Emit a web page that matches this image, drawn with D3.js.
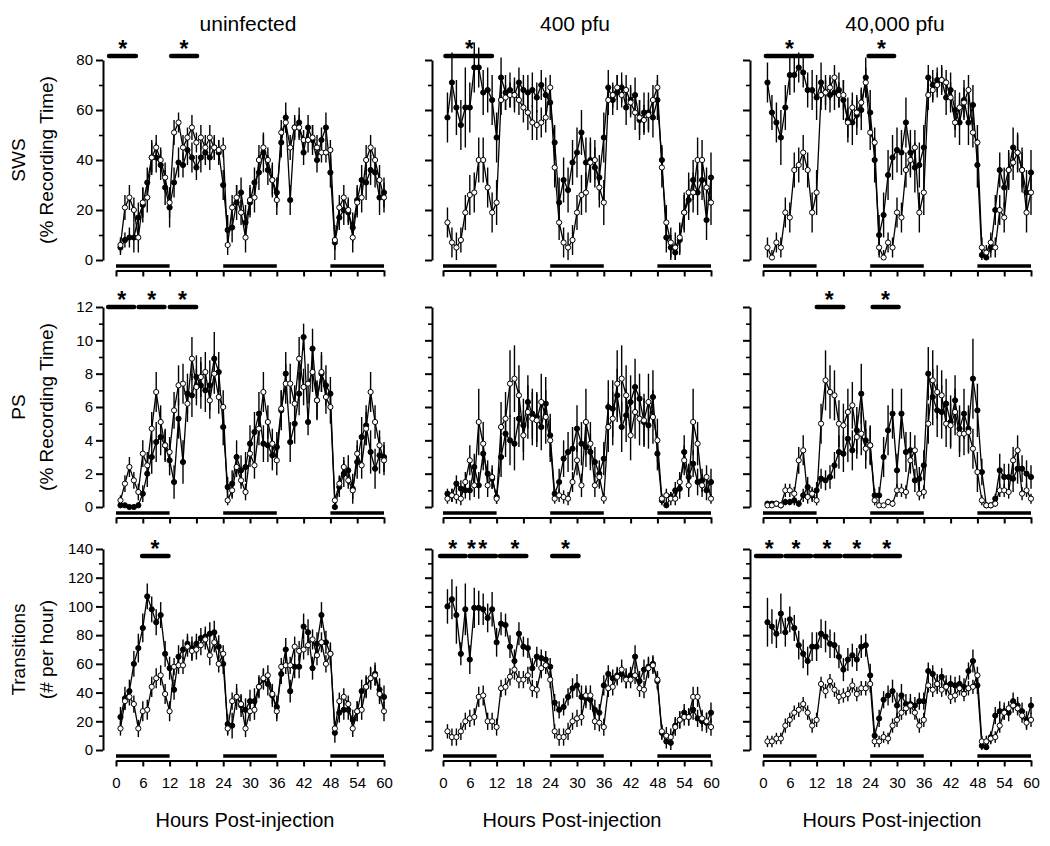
<!DOCTYPE html>
<html>
<head>
<meta charset="utf-8">
<script src="https://cdn.jsdelivr.net/npm/d3@7"></script>
<style>
  body { margin: 0; background: #fff; }
  svg { display: block; font-family: "Liberation Sans", Arial, sans-serif; }
</style>
</head>
<body>
<script>
// hours of recording (one point per hour)
const hours = d3.range(1, 61);

// ---- SWS (% recording time) ----
const swsUninFilled = [5,8,9,9,17,22,31,41,41,38,29,21, 31,39,38,44,41,37,41,43,41,45,43,30, 12,13,23,27,15,23,31,35,43,36,32,27, 47,57,24,53,55,43,53,48,40,48,53,35, 7,17,20,19,13,24,32,31,36,35,25,27];
const swsUninFilledErr = [3,3,4,6,6,7,6,7,6,6,7,8, 6,6,5,6,6,5,6,5,5,5,5,6, 6,6,7,6,7,6,6,7,8,6,7,6, 6,6,6,5,6,5,5,6,5,5,6,6, 7,5,6,5,6,6,6,7,6,6,7,6];
const swsUninOpen = [6,21,25,20,9,23,25,41,45,40,33,23, 51,55,45,49,53,47,49,45,49,45,44,45, 6,21,25,19,9,24,25,40,45,40,32,24, 51,55,45,53,53,48,48,49,45,43,43,44, 8,21,25,20,9,23,25,40,45,40,32,25];
const swsUninOpenErr = [3,5,5,5,6,6,6,6,5,5,6,6, 5,4,5,4,5,4,5,5,5,4,4,4, 4,5,5,5,6,6,6,6,5,5,6,6, 5,4,5,4,5,4,5,5,5,4,4,4, 4,5,5,5,6,6,6,6,5,5,6,6];

const sws400Filled = [57,71,61,54,61,61,77,77,67,68,64,49, 73,67,68,66,71,68,67,68,65,70,66,63, 47,23,32,28,39,43,51,39,40,37,33,49, 69,64,67,69,61,64,66,56,59,59,57,64, 40,9,5,3,8,19,24,32,27,32,16,33];
const sws400FilledErr = [10,12,11,10,16,10,10,8,9,9,10,10, 8,7,7,7,6,6,7,7,6,6,7,7, 7,10,9,9,9,10,9,10,9,8,9,10, 7,6,7,6,7,6,7,8,8,8,8,8, 6,6,5,4,6,8,8,8,9,8,8,10];
const sws400Open = [15,7,5,8,19,26,27,40,40,29,19,23, 64,65,66,66,64,61,59,55,54,55,57,69, 37,15,7,5,8,19,26,27,39,40,29,23, 64,66,69,66,68,63,59,57,56,58,64,69, 37,15,7,5,9,19,27,27,40,40,29,23];
const sws400OpenErr = [6,6,6,5,7,8,8,9,9,8,8,9, 6,5,5,5,6,6,7,7,6,6,6,5, 8,7,6,6,6,7,8,8,8,8,8,9, 6,5,5,5,6,6,7,7,6,6,6,5, 8,7,6,6,6,7,8,8,9,8,8,9];

const sws40kFilled = [71,59,55,49,61,74,74,77,75,68,68,65, 71,67,66,67,68,64,56,55,58,60,73,59, 40,10,18,34,41,44,43,55,43,37,38,45, 73,70,72,72,65,68,60,55,64,55,62,38, 2,1,5,20,36,29,36,45,43,36,27,35];
const sws40kFilledErr = [8,7,8,11,9,8,7,6,6,7,8,9, 8,7,7,7,7,8,9,9,8,8,8,9, 9,8,9,10,9,9,9,10,9,10,9,9, 5,6,5,6,7,7,8,9,8,9,8,9, 3,3,4,6,7,8,8,8,8,9,9,9];
const sws40kOpen = [5,1,7,5,19,17,36,38,43,36,19,27, 66,67,69,73,66,66,55,61,59,63,71,51, 47,5,1,7,5,19,17,36,40,45,19,27, 66,68,70,72,71,65,55,61,63,68,51,47, 5,3,7,5,20,17,36,39,43,36,19,27];
const sws40kOpenErr = [4,3,4,4,6,6,7,7,7,7,8,9, 6,5,5,5,5,6,6,6,6,6,6,7, 6,4,3,4,4,6,6,7,7,7,8,9, 6,5,5,5,5,6,6,6,6,6,6,7, 4,3,4,4,6,6,7,7,7,7,8,9];

// ---- PS (% recording time) ----
const psUninFilled = [0.1,0.1,0,0,0.1,0.8,2.0,3.0,3.9,4.2,3.7,2.8, 1.5,5.3,2.7,6.8,6.7,7.8,7.3,7.0,7.3,8.9,8.1,4.8, 1.2,1.4,3.0,2.2,2.4,3.8,4.5,5.6,3.8,3.7,3.1,3.6, 5.8,8.0,3.9,5.0,6.8,10.2,5.1,9.5,6.4,8.0,7.3,6.8, 0,1.2,2.0,2.2,1.1,2.7,4.2,4.9,3.3,2.3,3.1,3.0];
const psUninFilledErr = [0.1,0.1,0.1,0.1,0.2,0.5,0.8,1.0,1.2,1.1,1.0,0.9, 1.0,1.2,1.3,1.2,1.3,1.3,1.4,1.3,1.5,1.6,1.2,1.1, 0.6,0.8,1.0,0.9,0.9,1.1,1.2,1.3,1.1,1.0,0.9,0.9, 1.2,1.3,1.2,1.2,1.3,0.8,0.8,1.2,1.2,1.1,1.2,1.0, 0.2,0.6,0.8,0.9,0.9,1.0,1.2,1.2,1.3,1.2,1.1,0.9];
const psUninOpen = [0.4,1.4,2.4,1.6,0.9,3.2,2.5,4.7,6.9,5.1,3.7,3.3, 5.8,7.3,7.4,6.2,8.9,7.2,7.8,8.1,6.4,8.0,6.6,6.0, 0.4,1.0,2.4,1.6,0.9,3.2,2.5,4.7,6.9,5.1,3.8,2.8, 5.9,7.4,7.4,6.2,8.9,7.2,7.4,8.1,6.4,8.1,6.6,6.0, 0.4,1.4,2.4,1.6,1.0,3.2,2.5,4.7,6.9,5.1,3.7,2.8];
const psUninOpenErr = [0.3,0.5,0.6,0.5,0.5,0.8,0.8,1.0,1.2,1.0,0.9,0.9, 1.1,1.2,1.2,1.1,1.3,1.1,1.2,1.2,1.1,1.2,1.0,1.0, 0.3,0.5,0.6,0.5,0.5,0.8,0.8,1.0,1.2,1.0,0.9,0.9, 1.1,1.2,1.2,1.1,1.3,1.1,1.2,1.2,1.1,1.2,1.0,1.0, 0.3,0.5,0.6,0.5,0.5,0.8,0.8,1.0,1.2,1.0,0.9,0.9];

const ps400Filled = [0.8,0.7,1.4,1.1,1.0,1.0,2.4,1.3,3.2,2.0,1.7,0.6, 3.0,4.4,4.0,3.8,5.3,4.9,6.3,5.6,5.4,4.8,6.2,4.3, 0.8,1.5,2.9,3.3,3.5,4.7,3.8,3.6,3.3,2.7,2.0,2.9, 6.0,5.9,6.7,4.8,5.5,6.3,7.2,6.5,5.1,4.9,6.6,3.2, 0.4,0.1,0.6,1.0,1.1,3.3,1.8,2.6,1.5,1.6,1.0,1.5];
const ps400FilledErr = [0.3,0.4,0.5,0.5,0.5,0.6,0.8,0.8,1.0,0.8,0.6,0.4, 1.2,1.4,1.5,1.6,1.7,1.6,1.6,1.5,1.5,1.4,1.6,1.3, 0.3,0.8,1.1,1.2,1.3,1.4,1.3,1.2,1.1,0.9,0.8,1.0, 1.6,1.7,1.6,1.5,1.6,1.6,1.7,1.5,1.4,1.4,1.6,1.0, 0.3,0.2,0.3,0.5,0.6,1.0,0.8,0.8,0.8,0.7,0.6,0.8];
const ps400Open = [0.5,0.7,0.6,0.5,1.5,2.8,1.3,5.1,3.8,1.3,1.8,0.5, 4.8,5.3,7.4,7.7,6.7,4.3,5.7,5.3,5.2,6.3,5.4,4.0, 0.5,0.7,0.6,0.5,1.5,2.8,1.3,5.1,3.8,1.3,1.8,0.5, 4.8,5.3,7.4,7.7,6.7,4.3,5.7,5.3,5.2,6.3,5.4,4.0, 0.5,0.7,0.5,0.5,1.5,2.8,1.3,5.1,3.8,1.3,1.8,0.5];
const ps400OpenErr = [0.3,0.4,0.4,0.4,0.6,0.9,0.7,2.0,1.3,0.7,0.7,0.3, 1.5,1.6,2.0,2.0,1.8,1.5,1.6,1.6,1.6,1.7,1.6,1.3, 0.3,0.4,0.4,0.4,0.6,0.9,0.7,2.0,1.3,0.7,0.7,0.3, 1.5,1.6,2.0,2.0,1.8,1.5,1.6,1.6,1.6,1.7,1.6,1.3, 0.3,0.4,0.4,0.4,0.6,0.9,0.7,2.0,1.3,0.7,0.7,0.3];

const ps40kFilled = [0.2,0.2,0.2,0.1,0.3,0.3,0.4,0.2,0.7,1.2,0.7,1.0, 1.7,1.6,1.8,2.5,3.3,3.2,4.1,3.4,4.6,6.8,4.0,3.7, 0.7,0.7,3.0,4.6,5.6,2.2,5.6,3.3,3.4,1.6,1.7,2.5, 8.0,6.6,5.8,5.7,6.2,5.1,6.4,4.7,5.6,4.7,7.7,5.8, 2.1,0.1,0.1,0.5,2.2,1.8,1.8,1.7,2.3,2.3,2.0,1.8];
const ps40kFilledErr = [0.1,0.1,0.1,0.1,0.2,0.2,0.3,0.2,0.4,0.6,0.4,0.5, 0.6,0.6,0.7,0.8,1.0,1.1,1.4,1.2,1.4,1.8,1.2,1.1, 0.4,0.5,1.2,1.5,1.5,1.0,1.5,1.2,1.1,0.7,0.7,0.9, 1.6,1.7,1.6,1.6,1.5,1.6,1.5,1.4,1.5,1.4,2.4,1.6, 0.8,0.1,0.1,0.3,1.0,0.8,0.8,0.8,0.9,0.8,0.8,0.7];
const ps40kOpen = [0.1,0.1,0.2,0.1,1.0,1.0,0.8,2.8,3.4,0.6,0.8,0.4, 5.0,7.6,6.9,6.7,5.0,4.9,5.7,6.1,4.2,4.4,3.5,3.7, 0.4,0.1,0.1,0.3,0.2,1.0,1.0,0.9,2.8,3.4,0.8,0.9, 5.0,7.6,6.9,6.7,5.0,4.9,5.7,4.4,4.4,4.5,3.5,2.1, 0.4,0.1,0.1,0.2,1.0,1.0,0.9,2.8,3.4,0.8,1.0,0.5];
const ps40kOpenErr = [0.1,0.1,0.1,0.1,0.4,0.4,0.4,0.8,0.9,0.4,0.4,0.3, 1.2,1.8,1.6,1.5,1.4,1.3,1.4,1.4,1.3,1.3,1.2,1.2, 0.3,0.1,0.1,0.2,0.2,0.4,0.4,0.4,0.8,0.9,0.4,0.4, 1.2,1.8,1.6,1.5,1.4,1.3,1.4,1.4,1.3,1.3,1.2,1.2, 0.3,0.1,0.1,0.2,0.4,0.4,0.4,0.8,0.9,0.4,0.4,0.3];

// ---- Transitions (# per hour) ----
const trUninFilled = [23,36,41,60,71,85,107,98,89,94,67,57, 42,65,70,74,71,74,78,79,81,82,72,60, 18,17,37,31,28,34,34,44,49,46,38,30, 53,70,41,58,58,86,82,57,74,94,75,67, 12,26,28,28,21,27,41,44,50,53,42,37];
const trUninFilledErr = [7,8,8,9,10,10,9,9,9,9,9,8, 7,8,7,7,8,7,7,7,8,8,8,7, 7,9,9,8,8,8,9,8,7,8,8,8, 7,8,8,8,8,9,9,8,8,9,8,8, 7,7,7,7,7,7,8,8,8,8,8,8];
const trUninOpen = [15,34,37,32,15,27,28,44,50,52,39,27, 58,59,59,72,69,70,73,77,66,75,60,67, 15,34,37,32,15,27,28,44,50,52,39,27, 58,59,59,72,69,70,73,77,66,75,60,67, 15,34,37,32,15,27,28,44,50,52,39,27];
const trUninOpenErr = [5,6,6,6,6,7,7,7,7,7,7,7, 6,6,6,7,7,7,7,7,7,7,6,6, 5,6,6,6,6,7,7,7,7,7,7,7, 6,6,6,7,7,7,7,7,7,7,6,6, 5,6,6,6,6,7,7,7,7,7,7,7];

const tr400Filled = [100,105,94,67,98,63,99,99,98,92,98,75, 88,87,72,62,81,72,71,57,65,64,63,58, 33,28,30,37,43,45,37,36,35,28,26,45, 53,50,52,53,50,52,65,48,56,58,60,48, 12,6,5,17,21,26,23,28,22,20,19,26];
const tr400FilledErr = [12,14,20,8,18,10,14,12,11,10,12,10, 8,8,8,8,8,7,7,7,7,6,6,6, 6,6,6,6,7,8,8,7,7,7,6,7, 6,6,6,6,7,6,8,7,7,7,6,6, 5,5,5,6,6,6,6,7,6,7,7,7];
const tr400Open = [13,9,9,13,20,22,23,37,38,20,20,16, 43,44,51,56,49,49,52,43,42,57,59,49, 13,9,9,13,20,22,23,38,38,20,19,16, 43,44,51,56,49,49,52,43,42,57,59,49, 13,10,9,16,21,23,23,37,37,22,20,16];
const tr400OpenErr = [5,6,6,6,6,6,6,7,7,6,6,6, 6,6,6,7,6,6,6,6,6,7,6,6, 5,6,6,6,6,6,6,7,7,6,6,6, 6,6,6,7,6,6,6,6,6,7,6,6, 5,6,6,6,6,6,6,7,7,6,6,6];

const tr40kFilled = [89,86,81,95,82,91,85,73,67,62,72,72, 81,79,74,73,65,56,63,66,63,72,73,52, 10,22,35,38,41,31,38,32,32,31,34,34, 55,53,46,51,45,46,45,46,44,55,62,45, 3,2,9,24,27,27,26,34,31,27,21,31];
const tr40kFilledErr = [17,12,10,14,10,9,9,10,10,10,10,10, 10,11,10,9,8,8,8,8,8,8,8,8, 5,6,6,7,8,9,8,7,7,6,6,6, 6,6,7,6,7,6,6,6,6,6,8,6, 3,3,4,6,7,6,6,6,6,6,6,6];
const tr40kOpen = [6,6,8,8,17,21,26,28,32,26,17,21, 46,41,48,42,37,38,39,45,39,43,43,46, 6,6,9,8,17,21,26,29,31,26,17,21, 45,42,46,42,44,37,38,43,39,43,44,52, 6,6,8,9,17,26,29,31,29,24,19,21];
const tr40kOpenErr = [4,4,4,4,5,5,5,5,5,5,5,5, 5,5,5,5,5,5,5,5,5,5,5,6, 4,4,4,4,5,5,5,5,5,5,5,5, 5,5,5,5,5,5,5,5,5,5,5,6, 4,4,4,4,5,5,5,5,5,5,5,5];

// labels
const columnTitles = ["uninfected", "400 pfu", "40,000 pfu"];
const rowTitles = [["SWS", "(% Recording Time)"], ["PS", "(% Recording Time)"], ["Transitions", "(# per hour)"]];
const xTicks = [0, 6, 12, 18, 24, 30, 36, 42, 48, 54, 60];
const darkPhases = [[0, 12], [24, 36], [48, 60]];

// significance bars (hours) and asterisk positions (hours), [row][col]
const sigBars = [
  [[[-2, 4.9], [11.9, 18.6]], [[0.1, 11.4]], [[0.2, 11.4], [23.2, 29.8]]],
  [[[-2.2, 4.5], [4.6, 11.3], [11.6, 18.4]], [], [[11.6, 18.4], [24.1, 30.8]]],
  [[[5.4, 12.2]], [[-1.1, 5.5], [5.5, 12.3], [12.3, 19.1], [24, 30.8]], [[-2, 4.6], [4.6, 11.2], [11.2, 17.8], [17.8, 24.4], [24.4, 31.1]]]
];
const sigStars = [
  [[1.5, 15.2], [5.9], [5.9, 26.5]],
  [[1.3, 8.0, 14.9], [], [14.8, 27.4]],
  [[8.7], [2.2, 6.4, 8.9, 16.1, 27.4], [1.4, 7.4, 14.3, 21.0, 27.7]]
];

// ---- layout ----
const width = 1050, height = 846;
const colLeft = [116, 443, 763];
const yAxisX = [103, 432, 750];
const plotW = 268;
const rowTop = [60, 307, 549];
const rowBottom = [260, 507, 750];
const rowMax = [80, 12, 140];
const rowMajor = [20, 2, 20];
const rowMinor = [10, 1, 10];
const sigY = [56, 307, 556];
const font = "'Liberation Sans', Arial, sans-serif";

const panelData = [
  [[swsUninFilled, swsUninFilledErr, swsUninOpen, swsUninOpenErr],
   [sws400Filled, sws400FilledErr, sws400Open, sws400OpenErr],
   [sws40kFilled, sws40kFilledErr, sws40kOpen, sws40kOpenErr]],
  [[psUninFilled, psUninFilledErr, psUninOpen, psUninOpenErr],
   [ps400Filled, ps400FilledErr, ps400Open, ps400OpenErr],
   [ps40kFilled, ps40kFilledErr, ps40kOpen, ps40kOpenErr]],
  [[trUninFilled, trUninFilledErr, trUninOpen, trUninOpenErr],
   [tr400Filled, tr400FilledErr, tr400Open, tr400OpenErr],
   [tr40kFilled, tr40kFilledErr, tr40kOpen, tr40kOpenErr]]
];

const svg = d3.select("body").append("svg")
  .attr("width", width)
  .attr("height", height);

svg.append("rect").attr("width", width).attr("height", height).attr("fill", "#fff");

// column titles
columnTitles.forEach((t, c) => {
  svg.append("text")
    .attr("x", colLeft[c] + plotW / 2 - 2)
    .attr("y", 31)
    .attr("text-anchor", "middle")
    .style("font-family", font)
    .style("font-size", "21px")
    .text(t);
});

// row titles
rowTitles.forEach((lines, r) => {
  const cy = (rowTop[r] + rowBottom[r]) / 2;
  [25, 53].forEach((xx, i) => {
    svg.append("text")
      .attr("transform", `translate(${xx},${cy}) rotate(-90)`)
      .attr("text-anchor", "middle")
      .style("font-family", font)
      .style("font-size", "19px")
      .text(lines[i]);
  });
});

// x titles
colLeft.forEach(x0 => {
  svg.append("text")
    .attr("x", x0 + plotW / 2 - 5)
    .attr("y", 827)
    .attr("text-anchor", "middle")
    .style("font-family", font)
    .style("font-size", "20px")
    .text("Hours Post-injection");
});

for (let r = 0; r < 3; r++) {
  for (let c = 0; c < 3; c++) {
    const [fv, fe, ov, oe] = panelData[r][c];
    const g = svg.append("g");

    const x = d3.scaleLinear().domain([0, 60]).range([colLeft[c], colLeft[c] + plotW]);
    const y = d3.scaleLinear().domain([0, rowMax[r]]).range([rowBottom[r], rowTop[r]]);

    // y axis, major ticks
    const majors = d3.range(0, rowMax[r] + 0.001, rowMajor[r]);
    const minors = d3.range(rowMinor[r], rowMax[r], rowMajor[r]);
    const yAx = g.append("g")
      .attr("transform", `translate(${yAxisX[c]},0)`)
      .call(d3.axisLeft(y).tickValues(majors).tickSize(7).tickSizeOuter(0).tickPadding(3)
        .tickFormat(c === 0 ? d3.format("d") : () => ""));
    yAx.select(".domain").attr("stroke-width", 2);
    yAx.selectAll(".tick line").attr("stroke-width", 2);
    yAx.selectAll(".tick text").style("font-family", font).style("font-size", "15px");

    const yMin = g.append("g")
      .attr("transform", `translate(${yAxisX[c]},0)`)
      .call(d3.axisLeft(y).tickValues(minors).tickSize(4).tickFormat(() => ""));
    yMin.select(".domain").remove();
    yMin.selectAll(".tick line").attr("stroke-width", 1.6);

    // x axis
    const xAx = g.append("g")
      .attr("transform", `translate(0,${rowBottom[r] + 10.5})`)
      .call(d3.axisBottom(x).tickValues(xTicks).tickSize(6).tickSizeOuter(0).tickPadding(11)
        .tickFormat(r === 2 ? d3.format("d") : () => ""));
    xAx.select(".domain").attr("stroke-width", 2);
    xAx.selectAll(".tick line").attr("stroke-width", 2);
    xAx.selectAll(".tick text").style("font-family", font).style("font-size", "15px");

    // dark phase bars
    g.selectAll(".dark")
      .data(darkPhases)
      .enter()
      .append("line")
      .attr("x1", d => x(d[0]))
      .attr("x2", d => x(d[1]))
      .attr("y1", rowBottom[r] + 6)
      .attr("y2", rowBottom[r] + 6)
      .attr("stroke", "#000")
      .attr("stroke-width", 3.5);

    // significance bars and asterisks
    g.selectAll(".sig")
      .data(sigBars[r][c])
      .enter()
      .append("line")
      .attr("x1", d => x(d[0]) + 2)
      .attr("x2", d => x(d[1]) - 2)
      .attr("y1", sigY[r])
      .attr("y2", sigY[r])
      .attr("stroke", "#000")
      .attr("stroke-width", 4.5)
      .attr("stroke-linecap", "round");

    g.selectAll(".star")
      .data(sigStars[r][c])
      .enter()
      .append("text")
      .attr("x", d => x(d))
      .attr("y", sigY[r] + 0.5)
      .attr("text-anchor", "middle")
      .style("font-family", font)
      .style("font-weight", "bold")
      .style("font-size", "23px")
      .text("*");

    const series = [
      { v: fv, e: fe, fill: "#000" },
      { v: ov, e: oe, fill: "#fff" }
    ];

    series.forEach(s => {
      const pts = hours.map((h, i) => ({ h, v: s.v[i], e: s.e[i] }));

      // error bars
      g.append("g").selectAll("line")
        .data(pts)
        .enter()
        .append("line")
        .attr("x1", d => x(d.h))
        .attr("x2", d => x(d.h))
        .attr("y1", d => y(Math.max(0, d.v - d.e)))
        .attr("y2", d => y(d.v + d.e))
        .attr("stroke", "#000")
        .attr("stroke-width", 1.4);

      // line
      g.append("path")
        .datum(pts)
        .attr("fill", "none")
        .attr("stroke", "#000")
        .attr("stroke-width", 1.3)
        .attr("d", d3.line().x(d => x(d.h)).y(d => y(d.v)));
    });

    series.forEach(s => {
      const pts = hours.map((h, i) => ({ h, v: s.v[i] }));
      g.append("g").selectAll("circle")
        .data(pts)
        .enter()
        .append("circle")
        .attr("cx", d => x(d.h))
        .attr("cy", d => y(d.v))
        .attr("r", 2.6)
        .attr("fill", s.fill)
        .attr("stroke", "#000")
        .attr("stroke-width", 1);
    });
  }
}
</script>
</body>
</html>
